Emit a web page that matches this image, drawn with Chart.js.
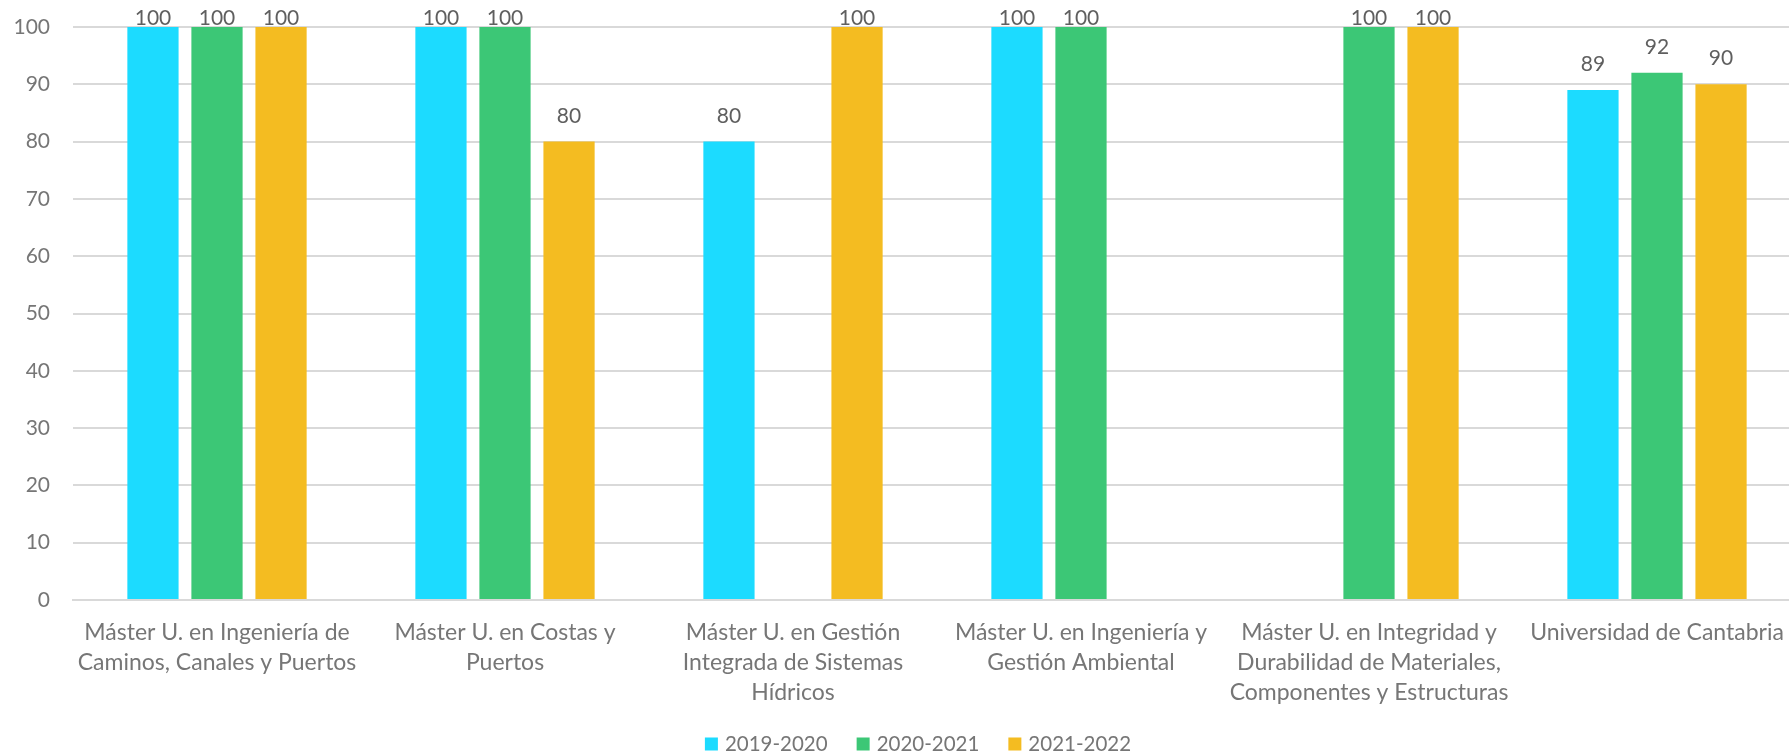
<!DOCTYPE html>
<html><head><meta charset="utf-8">
<script src="https://cdn.jsdelivr.net/npm/chart.js@4/dist/chart.umd.min.js"></script>
<style>html,body{margin:0;padding:0;background:#fff;overflow:hidden}#wrap{width:1801px;height:754px;position:relative}</style>
</head><body><div id="wrap"><canvas id="c"></canvas></div>
<script>
const categories = [
  ["Máster U. en Ingeniería de","Caminos, Canales y Puertos"],
  ["Máster U. en Costas y","Puertos"],
  ["Máster U. en Gestión","Integrada de Sistemas","Hídricos"],
  ["Máster U. en Ingeniería y","Gestión Ambiental"],
  ["Máster U. en Integridad y","Durabilidad de Materiales,","Componentes y Estructuras"],
  ["Universidad de Cantabria"]
];
const seriesNames = ["2019-2020","2020-2021","2021-2022"];
const s2019 = [100, 100, 80, 100, null, 89];
const s2020 = [100, 100, null, 100, 100, 92];
const s2021 = [100, 80, 100, null, 100, 90];
const colors = ["#1CDBFF","#3CC776","#F4BC21"];
const yTicks = [0,10,20,30,40,50,60,70,80,90,100];

const FONT = "Lato, 'Open Sans', sans-serif";
const AXIS_COLOR = "#767676";
const labelPlugin = {
  id:'vals',
  afterDatasetsDraw(chart){
    const ctx = chart.ctx;
    ctx.save();
    ctx.font = "21px " + FONT;
    ctx.fillStyle = "#5f5f5f";
    ctx.textAlign = "center";
    ctx.textBaseline = "alphabetic";
    chart.data.datasets.forEach((ds,i)=>{
      const meta = chart.getDatasetMeta(i);
      meta.data.forEach((bar,j)=>{
        const v = ds.data[j];
        if (v === null || v === undefined) return;
        const y = Math.max(bar.y - 19, 25);
        ctx.fillText(String(v), bar.x, y);
      });
    });
    ctx.restore();
  }
};
const legendPlugin = {
  id:'customLegend',
  afterDraw(chart){
    const ctx = chart.ctx;
    ctx.save();
    ctx.font = "20.5px " + FONT;
    const box = 13, gapText = 7, gapItem = 29;
    const items = chart.data.datasets.map(ds=>({label:ds.label, color:ds.backgroundColor, w:ctx.measureText(ds.label).width}));
    let total = items.reduce((s,it)=>s+box+gapText+it.w,0) + gapItem*(items.length-1);
    let x = 918 - total/2;
    const cy = 744;
    ctx.textBaseline = "middle";
    ctx.textAlign = "left";
    items.forEach(it=>{
      ctx.fillStyle = it.color;
      ctx.fillRect(x, cy - box/2, box, box);
      ctx.fillStyle = AXIS_COLOR;
      ctx.fillText(it.label, x + box + gapText, cy);
      x += box + gapText + it.w + gapItem;
    });
    ctx.restore();
  }
};

new Chart(document.getElementById('c'), {
  type:'bar',
  data:{
    labels: categories,
    datasets: [s2019,s2020,s2021].map((d,i)=>({
      label: seriesNames[i], data: d, backgroundColor: colors[i],
      categoryPercentage: 0.667, barPercentage: 0.8
    }))
  },
  options:{
    responsive:true, maintainAspectRatio:false, animation:false,
    layout:{padding:{top:27,left:0,right:0,bottom:0}},
    plugins:{
      legend:{display:false},
      tooltip:{enabled:false}
    },
    scales:{
      x:{
        grid:{display:false},
        border:{color:"#d9d9d9", width:2},
        afterFit(scale){ scale.height = 154; },
        ticks:{color:AXIS_COLOR, font:{size:23,family:FONT,lineHeight:1.3}, maxRotation:0, autoSkip:false, padding:10}
      },
      y:{
        min:0, max:100,
        afterBuildTicks(axis){ axis.ticks = yTicks.map(v=>({value:v})); },
        afterFit(scale){ scale.width = 73; },
        grid:{color:"#d9d9d9", lineWidth:2, drawTicks:true, tickLength:23, tickColor:"rgba(0,0,0,0)"},
        border:{display:false},
        ticks:{color:AXIS_COLOR, font:{size:21,family:FONT}, padding:0}
      }
    }
  },
  plugins:[labelPlugin, legendPlugin]
});
</script></body></html>
